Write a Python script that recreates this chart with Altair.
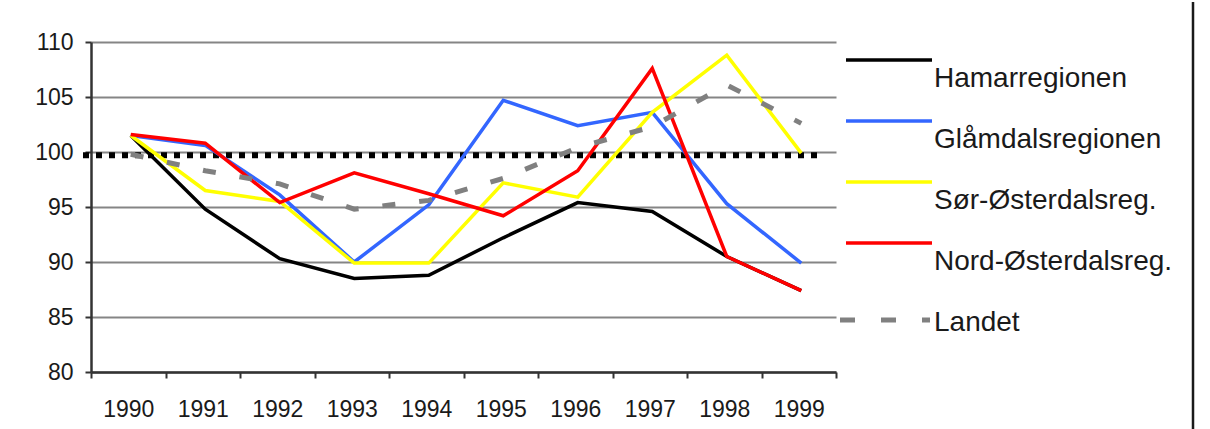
import altair as alt
import pandas as pd

years = ["1990", "1991", "1992", "1993", "1994", "1995", "1996", "1997", "1998", "1999"]
series_names = ["Hamarregionen", "Glåmdalsregionen", "Sør-Østerdalsreg.", "Nord-Østerdalsreg.", "Landet"]
series_colors = ["#000000", "#3366FF", "#FFFF00", "#FF0000", "#808080"]

hamar = [101.5, 94.8, 90.3, 88.5, 88.8, 92.2, 95.4, 94.6, 90.5, 87.4]
glamdal = [101.5, 100.6, 96.1, 90.0, 95.2, 104.7, 102.4, 103.6, 95.3, 89.9]
sor = [101.5, 96.5, 95.5, 89.9, 89.9, 97.2, 95.9, 103.6, 108.8, 99.9]
nord = [101.6, 100.8, 95.4, 98.1, 96.2, 94.2, 98.3, 107.6, 90.5, 87.4]
landet = [99.8, 98.3, 97.1, 94.8, 95.6, 97.6, 100.4, 102.3, 106.1, 102.6]
reference_level = [99.7]

y_ticks = [80, 85, 90, 95, 100, 105, 110]

FONT = "Liberation Sans"
TEXT = "#1a1a1a"

rows = []
for name, vals in zip(series_names, [hamar, glamdal, sor, nord, landet]):
    for yr, v in zip(years, vals):
        rows.append({"year": yr, "value": v, "series": name})
df = pd.DataFrame(rows)

x_enc = alt.X(
    "year:O",
    sort=years,
    scale=alt.Scale(type="band", domain=years, paddingInner=0, paddingOuter=0),
    bandPosition=0.5,
    axis=alt.Axis(
        title=None, labelAngle=0, tickBand="extent", grid=False,
        labelFont=FONT, labelFontSize=23, labelColor=TEXT, labelPadding=20,
        tickSize=6, tickWidth=2, tickColor="#333333",
        domainColor="#333333", domainWidth=2.5,
    ),
)
y_enc = alt.Y(
    "value:Q",
    scale=alt.Scale(domain=[80, 110], nice=False, zero=False),
    axis=alt.Axis(
        title=None, values=y_ticks, grid=True, gridColor="#858585", gridWidth=1.8,
        labelFont=FONT, labelFontSize=23, labelColor=TEXT, labelPadding=12,
        tickSize=6, tickWidth=2, tickColor="#333333",
        domainColor="#333333", domainWidth=2.5,
    ),
)

color_scale = alt.Scale(domain=series_names, range=series_colors)

ref_df = pd.DataFrame({"value": reference_level})
ref = alt.Chart(ref_df).mark_rule(
    strokeWidth=6, strokeDash=[6, 7], color="#000000"
).encode(
    y=alt.Y("value:Q", scale=alt.Scale(domain=[80, 110], nice=False, zero=False)),
    x=alt.value(-8), x2=alt.value(731),
)

solid = alt.Chart(df).transform_filter(alt.datum.series != "Landet").mark_line(
    strokeWidth=3.5, xOffset=2.5
).encode(
    x=x_enc, y=y_enc,
    color=alt.Color("series:N", scale=color_scale, legend=None),
    order=alt.Order("year:O"),
    detail="series:N",
)

dashed = alt.Chart(df).transform_filter(alt.datum.series == "Landet").mark_line(
    strokeWidth=5, strokeDash=[13, 24], color="#808080", xOffset=2.5
).encode(x=x_enc, y=y_enc)

main = alt.layer(ref, solid, dashed).properties(width=745, height=330)

leg_df = pd.DataFrame({"series": series_names})
y_leg = alt.Y(
    "series:N", sort=series_names,
    scale=alt.Scale(type="point", domain=series_names, range=[18, 262], padding=0),
    axis=None,
)
leg_lines = alt.Chart(leg_df).transform_filter(alt.datum.series != "Landet").mark_rule(
    strokeWidth=3.5
).encode(
    x=alt.value(8), x2=alt.value(94), y=y_leg,
    color=alt.Color("series:N", scale=color_scale, legend=None),
)
leg_dash = alt.Chart(leg_df).transform_filter(alt.datum.series == "Landet").mark_rule(
    strokeWidth=5, strokeDash=[15, 26], color="#808080", yOffset=16
).encode(x=alt.value(2), x2=alt.value(92), y=y_leg)
leg_text = alt.Chart(leg_df).mark_text(
    align="left", baseline="alphabetic", dy=27, fontSize=28, font=FONT, color=TEXT
).encode(x=alt.value(96), y=y_leg, text="series:N")
border = alt.Chart(pd.DataFrame({"a": [0]})).mark_rule(
    color="#1a1a1a", strokeWidth=2.5
).encode(x=alt.value(355), y=alt.value(-40), y2=alt.value(389))

legend = alt.layer(leg_lines, leg_dash, leg_text, border).properties(width=360, height=330)

chart = alt.hconcat(main, legend, spacing=0).properties(
    padding={"left": 34, "top": 0, "right": 0, "bottom": 0},
    background="white",
).configure_view(strokeWidth=0)

chart.save("out.html", embed_options={"renderer": "svg", "actions": False})
